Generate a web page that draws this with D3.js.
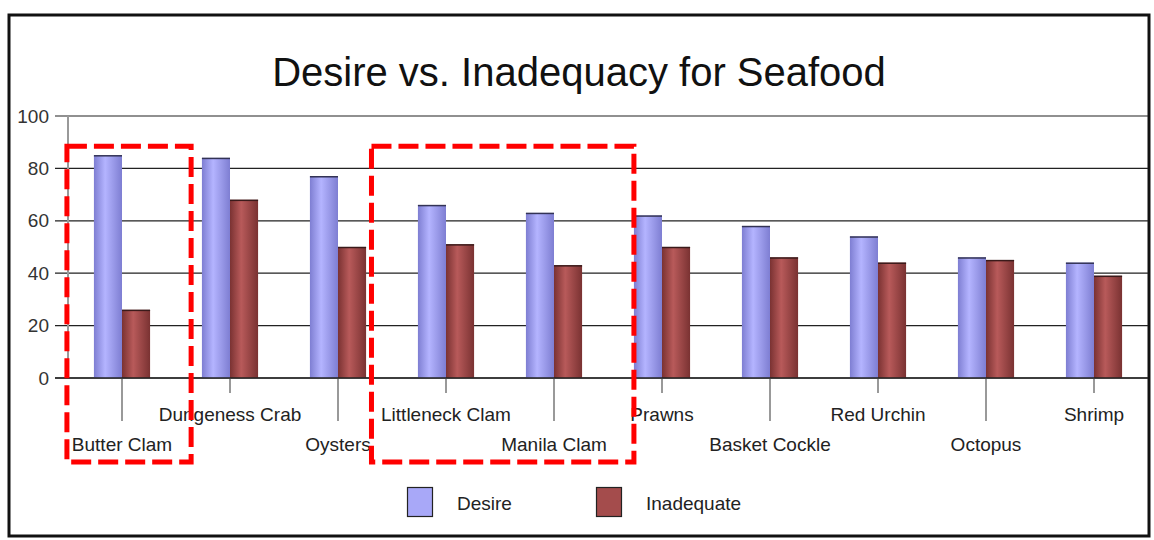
<!DOCTYPE html>
<html>
<head>
<meta charset="utf-8">
<script src="https://cdn.jsdelivr.net/npm/d3@7"></script>
<style>
  body { margin: 0; background: #fff; }
  text { font-family: "Liberation Sans", Arial, sans-serif; }
</style>
</head>
<body>
<svg id="chart" width="1154" height="540"></svg>
<script>
// chart data
const categories = ["Butter Clam", "Dungeness Crab", "Oysters", "Littleneck Clam", "Manila Clam",
  "Prawns", "Basket Cockle", "Red Urchin", "Octopus", "Shrimp"];
const seriesNames = ["Desire", "Inadequate"];
const desire = [85, 84, 77, 66, 63, 62, 58, 54, 46, 44];
const inadequate = [26, 68, 50, 51, 43, 50, 46, 44, 45, 39];
const yTicks = [0, 20, 40, 60, 80, 100];
// highlighted groups (red dashed boxes)
const highlights = [
  {from: "Butter Clam", to: "Butter Clam", padLeft: 0.51, padRight: 0.64},
  {from: "Littleneck Clam", to: "Manila Clam", padLeft: 0.69, padRight: 0.74}
];

const svg = d3.select("#chart");
const margin = {top: 116, right: 6, bottom: 162, left: 68};
const width = 1154 - margin.left - margin.right;
const height = 540 - margin.top - margin.bottom;

const colors = {
  Desire: {edge: "#7e7ed2", mid: "#b4b4ff", top: "#333355"},
  Inadequate: {edge: "#7a3232", mid: "#b85a5a", top: "#3a1a1a"}
};

const defs = svg.append("defs");
seriesNames.forEach(function(s) {
  const grad = defs.append("linearGradient")
      .attr("id", "grad_" + s)
      .attr("x1", "0%").attr("x2", "100%").attr("y1", "0%").attr("y2", "0%");
  grad.append("stop").attr("offset", "0%").attr("stop-color", colors[s].edge);
  grad.append("stop").attr("offset", "40%").attr("stop-color", colors[s].mid);
  grad.append("stop").attr("offset", "100%").attr("stop-color", colors[s].edge);
});

// outer frame
svg.append("rect")
    .attr("x", 9).attr("y", 15)
    .attr("width", 1140).attr("height", 521)
    .attr("fill", "#fff")
    .attr("stroke", "#111")
    .attr("stroke-width", 3);

svg.append("text")
    .attr("x", 579)
    .attr("y", 86)
    .attr("text-anchor", "middle")
    .style("font-size", "40px")
    .style("fill", "#111")
    .text("Desire vs. Inadequacy for Seafood");

const g = svg.append("g")
    .attr("transform", "translate(" + margin.left + "," + margin.top + ")");

const x0 = d3.scaleBand()
    .domain(categories)
    .range([0, width])
    .paddingInner(0.48)
    .paddingOuter(0.24);

const x1 = d3.scaleBand()
    .domain(seriesNames)
    .range([0, x0.bandwidth()]);

const y = d3.scaleLinear()
    .domain([0, 100])
    .range([height, 0]);

const center = function(c) { return x0(c) + x0.bandwidth() / 2; };

// gridlines + y ticks
g.append("g")
    .selectAll("line")
    .data(yTicks)
    .enter().append("line")
    .attr("x1", -13)
    .attr("x2", width)
    .attr("y1", function(d) { return y(d); })
    .attr("y2", function(d) { return y(d); })
    .attr("stroke", "#222")
    .attr("stroke-width", 1.2);

g.append("g")
    .selectAll("text")
    .data(yTicks)
    .enter().append("text")
    .attr("x", -19)
    .attr("y", function(d) { return y(d); })
    .attr("dy", "0.35em")
    .attr("text-anchor", "end")
    .style("font-size", "19px")
    .style("fill", "#333")
    .text(function(d) { return d; });

// y axis (grey)
g.append("line")
    .attr("x1", 0).attr("x2", 0)
    .attr("y1", y(100)).attr("y2", y(0))
    .attr("stroke", "#999")
    .attr("stroke-width", 2);

// bars
const rows = categories.map(function(c, i) {
  return {cat: c, values: [{key: "Desire", value: desire[i]}, {key: "Inadequate", value: inadequate[i]}]};
});

const group = g.append("g")
  .selectAll("g")
  .data(rows)
  .enter().append("g")
    .attr("transform", function(d) { return "translate(" + x0(d.cat) + ",0)"; });

group.selectAll("rect")
  .data(function(d) { return d.values; })
  .enter().append("rect")
    .attr("x", function(d) { return x1(d.key); })
    .attr("y", function(d) { return y(d.value); })
    .attr("width", x1.bandwidth())
    .attr("height", function(d) { return y(0) - y(d.value); })
    .attr("fill", function(d) { return "url(#grad_" + d.key + ")"; });

group.selectAll("line.top")
  .data(function(d) { return d.values; })
  .enter().append("line")
    .attr("class", "top")
    .attr("x1", function(d) { return x1(d.key); })
    .attr("x2", function(d) { return x1(d.key) + x1.bandwidth(); })
    .attr("y1", function(d) { return y(d.value) + 0.5; })
    .attr("y2", function(d) { return y(d.value) + 0.5; })
    .attr("stroke", function(d) { return colors[d.key].top; })
    .attr("stroke-width", 1.5);

// zero line on top
g.append("line")
    .attr("x1", -13).attr("x2", width)
    .attr("y1", y(0)).attr("y2", y(0))
    .attr("stroke", "#222")
    .attr("stroke-width", 1.5);

// category ticks and staggered labels
g.append("g")
  .selectAll("line")
  .data(categories)
  .enter().append("line")
    .attr("x1", center).attr("x2", center)
    .attr("y1", y(0) + 1)
    .attr("y2", function(d, i) { return y(0) + (i % 2 === 0 ? 43 : 15); })
    .attr("stroke", "#777")
    .attr("stroke-width", 1.5);

g.append("g")
  .selectAll("text")
  .data(categories)
  .enter().append("text")
    .attr("x", center)
    .attr("y", function(d, i) { return y(0) + (i % 2 === 0 ? 73 : 43); })
    .attr("text-anchor", "middle")
    .style("font-size", "19px")
    .style("fill", "#222")
    .text(function(d) { return d; });

// legend
const legend = svg.append("g")
    .attr("transform", "translate(407,487)");
seriesNames.forEach(function(s, i) {
  const item = legend.append("g").attr("transform", "translate(" + (i * 189) + ",0)");
  item.append("rect")
      .attr("x", 0.5).attr("y", 0.5)
      .attr("width", 25).attr("height", 29)
      .attr("fill", s === "Desire" ? "#a8a8f8" : "#a44c4c")
      .attr("stroke", "#222")
      .attr("stroke-width", 1.2);
  item.append("text")
      .attr("x", 50)
      .attr("y", 16)
      .attr("dy", "0.35em")
      .style("font-size", "19px")
      .style("fill", "#222")
      .text(s);
});

// red dashed highlight boxes
g.append("g")
  .selectAll("rect")
  .data(highlights)
  .enter().append("rect")
    .attr("x", function(d) { return center(d.from) - d.padLeft * x0.step(); })
    .attr("y", y(88.5))
    .attr("width", function(d) {
      return center(d.to) + d.padRight * x0.step() - (center(d.from) - d.padLeft * x0.step());
    })
    .attr("height", y(0) + 84 - y(88.5))
    .attr("fill", "none")
    .attr("stroke", "#ff0000")
    .attr("stroke-width", 5)
    .attr("stroke-dasharray", "20,7");
</script>
</body>
</html>
